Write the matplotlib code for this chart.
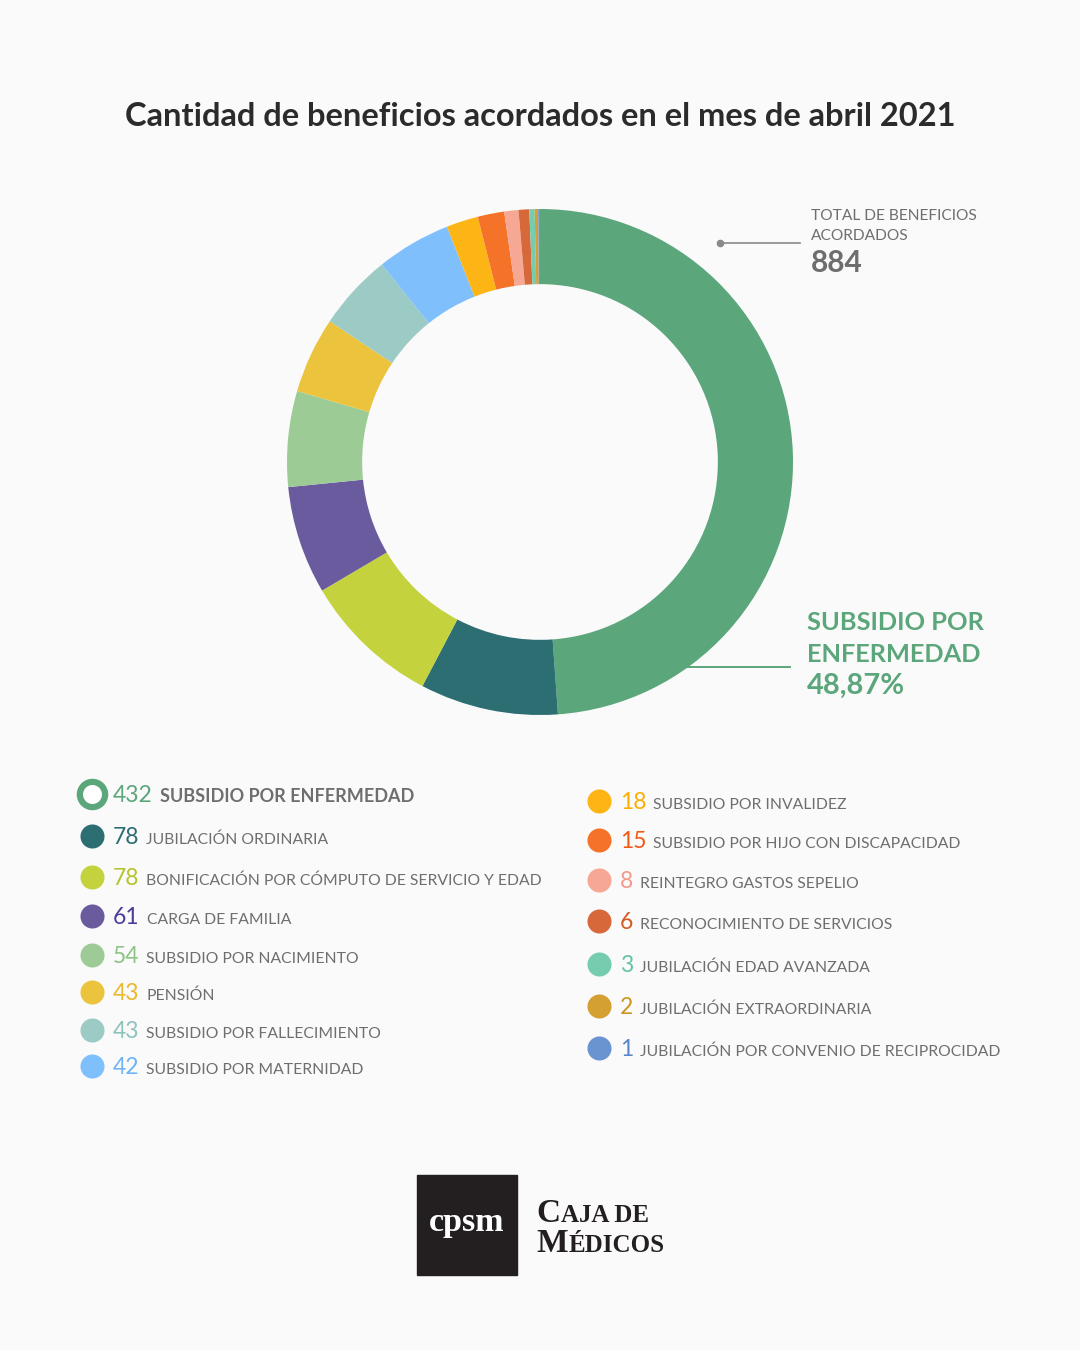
import matplotlib.pyplot as plt

# datos del gráfico
labels = ["SUBSIDIO POR ENFERMEDAD", "JUBILACIÓN ORDINARIA",
          "BONIFICACIÓN POR CÓMPUTO DE SERVICIO Y EDAD", "CARGA DE FAMILIA",
          "SUBSIDIO POR NACIMIENTO", "PENSIÓN", "SUBSIDIO POR FALLECIMIENTO",
          "SUBSIDIO POR MATERNIDAD", "SUBSIDIO POR INVALIDEZ",
          "SUBSIDIO POR HIJO CON DISCAPACIDAD", "REINTEGRO GASTOS SEPELIO",
          "RECONOCIMIENTO DE SERVICIOS", "JUBILACIÓN EDAD AVANZADA",
          "JUBILACIÓN EXTRAORDINARIA", "JUBILACIÓN POR CONVENIO DE RECIPROCIDAD"]
values = [432, 78, 78, 61, 54, 43, 43, 42, 18, 15, 8, 6, 3, 2, 1]
colors = ["#5ba67b", "#2d6e73", "#c3d23d", "#6a5b9e", "#9dcb96", "#ecc33d",
          "#9ccbc6", "#7fbffc", "#fdb515", "#f57328", "#f6a895", "#d7683a",
          "#75ccae", "#d4a032", "#6a94d0"]
num_colors = ["#5ba67b", "#2d6e73", "#b5c42a", "#4b3c99", "#8cc486", "#ecb92a",
              "#8cc3bd", "#6fb3f5", "#fdad00", "#f05a14", "#f4998a", "#d35a25",
              "#62c4a3", "#cc9520", "#5a86c8"]

title = "Cantidad de beneficios acordados en el mes de abril 2021"
total = sum(values)
pct = f"{values[0] / total * 100:.2f}".replace(".", ",")

FONT = "Lato"
GRAY = "#6e6e6e"

fig = plt.figure(figsize=(10.8, 13.5), dpi=100, facecolor="#fafafa")
bg = fig.add_axes([0, 0, 1, 1])
bg.set_xlim(0, 1080)
bg.set_ylim(1350, 0)
bg.axis("off")

# dona
cx, cy, r = 540, 462, 253
pax = fig.add_axes([(cx - r) / 1080, 1 - (cy + r) / 1350, 2 * r / 1080, 2 * r / 1350])
pax.pie(values, colors=colors, startangle=90, counterclock=False, radius=1,
        wedgeprops=dict(width=0.297, linewidth=0))
pax.set_xlim(-1, 1)
pax.set_ylim(-1, 1)
pax.axis("off")

bg.text(540, 116, title, ha="center", va="center", fontsize=23.5,
        fontweight="bold", color="#2b2b2b", family=FONT)

# total
bg.plot([720, 800], [243, 243], color="#8a8a8a", lw=1.2)
bg.plot(720, 243, "o", color="#8a8a8a", ms=4.5)
bg.text(811, 216, "TOTAL DE BENEFICIOS", va="center", fontsize=11.2, color=GRAY, family=FONT)
bg.text(811, 236, "ACORDADOS", va="center", fontsize=11.2, color=GRAY, family=FONT)
bg.text(811, 263, str(total), va="center", fontsize=21.5, fontweight="bold", color=GRAY, family=FONT)

# etiqueta principal
bg.plot([688, 790], [667, 667], color=colors[0], lw=1.4)
bg.text(807, 623, "SUBSIDIO POR", va="center", fontsize=18.3, fontweight="bold", color=colors[0], family=FONT)
bg.text(807, 655, "ENFERMEDAD", va="center", fontsize=18.3, fontweight="bold", color=colors[0], family=FONT)
bg.text(807, 686, pct + "%", va="center", fontsize=21, fontweight="bold", color=colors[0], family=FONT)

# leyenda
left_y = [794, 836, 877, 916, 955, 992, 1030, 1066]
right_y = [801, 840, 880, 921, 964, 1006, 1048]
rows = [(92, y) for y in left_y] + [(599, y) for y in right_y]

for i, (lab, val) in enumerate(zip(labels, values)):
    mx, my = rows[i]
    if i == 0:
        bg.scatter(mx, my, s=330, facecolor="white", edgecolor=colors[i], linewidth=4.5, zorder=3)
        nsize, lsize, lw = 16.5, 13, "bold"
    else:
        bg.scatter(mx, my, s=300, color=colors[i], linewidth=0, zorder=3)
        nsize, lsize, lw = 16.5, 11.3, "normal"
    num = bg.text(mx + 21, my + 8, str(val), va="baseline", fontsize=nsize,
                  color=num_colors[i], family=FONT)
    bg.annotate(lab, xy=(1, my + 8), xycoords=(num, "data"), xytext=(5, 0),
                textcoords="offset points", va="baseline", fontsize=lsize,
                fontweight=lw, color=GRAY, family=FONT)

# logo
bg.add_patch(plt.Rectangle((417, 1175), 100, 100, color="#231f20", zorder=2))
bg.text(467, 1223, "cpsm", ha="center", va="center", fontsize=24.5, fontweight="bold",
        color="white", family="Liberation Serif", zorder=3)
for yb, big, small in [(1222, "C", "AJA DE"), (1252, "M", "ÉDICOS")]:
    b = bg.text(536, yb, big, va="baseline", fontsize=24, color="#231f20",
                family="Liberation Serif", fontweight="bold")
    bg.annotate(small, xy=(1, yb), xycoords=(b, "data"), xytext=(0.5, 0),
                textcoords="offset points", va="baseline", fontsize=18,
                color="#231f20", family="Liberation Serif", fontweight="bold")

fig.savefig("out.png", dpi=100, facecolor=fig.get_facecolor())
